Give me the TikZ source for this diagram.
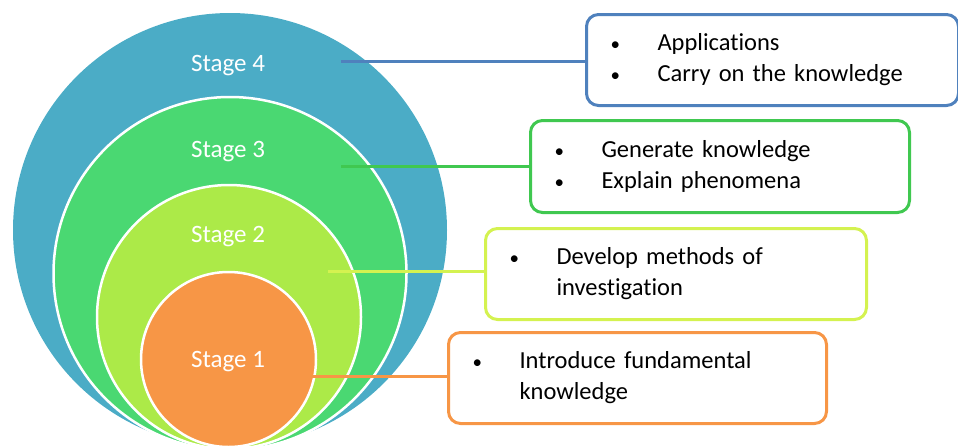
\documentclass[tikz,border=0pt]{standalone}
\usepackage{fontspec}
\setmainfont[Ligatures=NoCommon]{Carlito}
\usepackage{array}
\definecolor{c4fill}{RGB}{75,172,198}
\definecolor{c3fill}{RGB}{74,216,114}
\definecolor{c2fill}{RGB}{172,234,72}
\definecolor{c1fill}{RGB}{247,150,70}
\definecolor{b4col}{RGB}{79,129,189}
\definecolor{b3col}{RGB}{64,200,80}
\definecolor{b2col}{RGB}{212,242,80}
\definecolor{b1col}{RGB}{247,150,70}
\tikzset{
  ring/.style={circle, inner sep=0pt, draw=white, line width=2.5pt},
  stagelbl/.style={text=white, font=\fontsize{25}{30}\selectfont, inner sep=0pt},
  infobox/.style={draw, line width=3pt, rounded corners=12pt, fill=white,
    anchor=north west, inner xsep=23pt, inner ysep=0pt, align=left,
    font=\fontsize{24.5}{31}\selectfont},
  link/.style={line width=3pt}
}
\newcommand{\bitems}[1]{\raisebox{-3pt}{\begin{tabular}{@{}>{\raggedright}p{48pt}@{}l@{}}#1\end{tabular}}}
\newcommand{\bul}{\hspace{1pt}{\fontsize{19}{19}\selectfont\textbullet}}
\begin{document}
\begin{tikzpicture}[x=1pt,y=-1pt]
\useasboundingbox (0,0) rectangle (958,445);
% circles
\node[ring, draw=none, fill=c4fill, minimum size=434pt] (s4) at (230,230) {};
\node[ring, fill=c3fill, minimum size=353pt] (s3) at (230,273.5) {};
\node[ring, fill=c2fill, minimum size=264pt] (s2) at (229,317) {};
\node[ring, fill=c1fill, minimum size=175pt] (s1) at (228.5,359.5) {};
% labels
\node[stagelbl] (l4) at (228,66) {Stage 4};
\node[stagelbl] (l3) at (228,152) {Stage 3};
\node[stagelbl] (l2) at (228,237) {Stage 2};
\node[stagelbl] (l1) at (228,362) {Stage 1};
% boxes
\node[infobox, draw=b4col, minimum width=372pt, minimum height=91pt, text width=326pt] (b4) at (585,13)
  {\bitems{\bul & Applications\\ \bul & Carry on the knowledge}};
\node[infobox, draw=b3col, minimum width=379pt, minimum height=92pt, text width=333pt] (b3) at (529,119)
  {\bitems{\bul & Generate knowledge\\ \bul & Explain phenomena}};
\node[infobox, draw=b2col, minimum width=381pt, minimum height=91pt, text width=335pt] (b2) at (484,227)
  {\bitems{\bul & Develop methods of\\ & investigation}};
\node[infobox, draw=b1col, minimum width=378pt, minimum height=91pt, text width=332pt] (b1) at (447,331)
  {\bitems{\bul & Introduce fundamental\\ & knowledge}};
% connectors
\coordinate (p4) at (341,61);
\coordinate (p3) at (341,166);
\coordinate (p2) at (328,271);
\coordinate (p1) at (287,376);
\draw[link, b4col] (p4) -- (p4 -| b4.west);
\draw[link, b3col] (p3) -- (p3 -| b3.west);
\draw[link, b2col] (p2) -- (p2 -| b2.west);
\draw[link, b1col] (p1) -- (p1 -| b1.west);
\end{tikzpicture}
\end{document}
